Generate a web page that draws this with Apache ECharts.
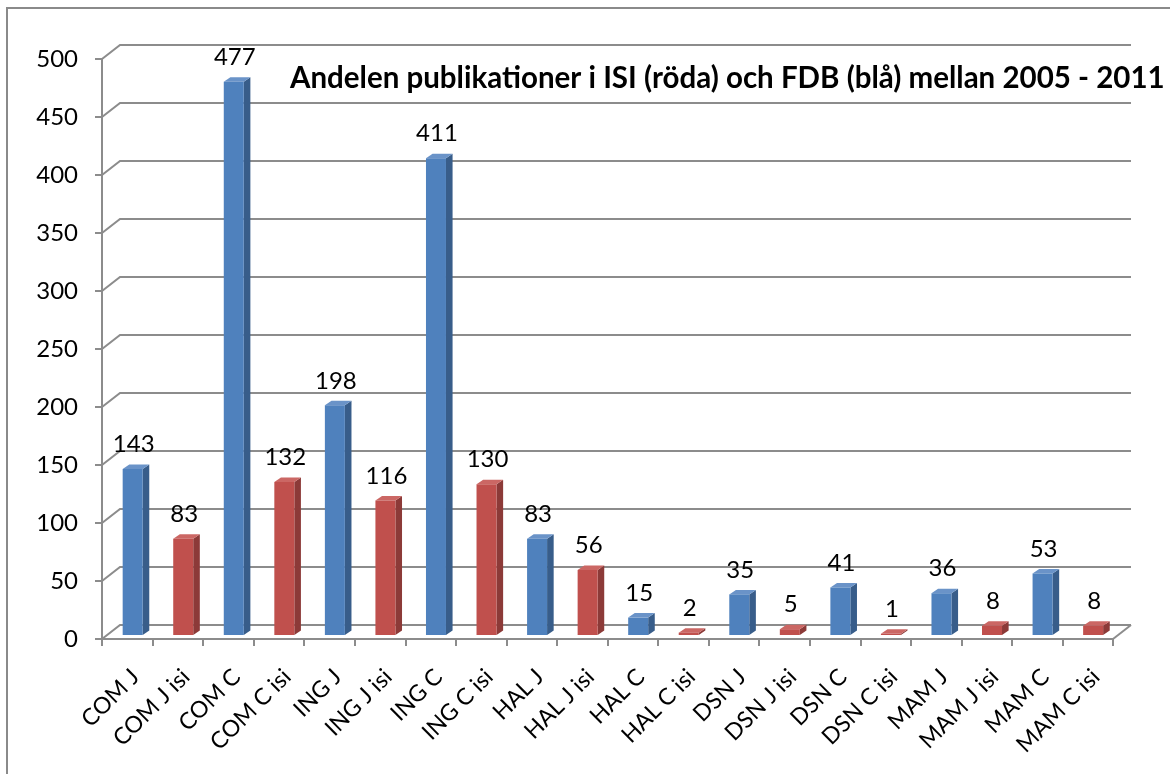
<!DOCTYPE html>
<html>
<head>
<meta charset="utf-8">
<script src="https://cdn.jsdelivr.net/npm/echarts@6/dist/echarts.min.js"></script>
<style>
html,body{margin:0;padding:0;background:#fff;}
#chart{width:1170px;height:774px;}
</style>
</head>
<body>
<div id="chart"></div>
<script>
var categories = ['COM J','COM J isi','COM C','COM C isi','ING J','ING J isi','ING C','ING C isi','HAL J','HAL J isi','HAL C','HAL C isi','DSN J','DSN J isi','DSN C','DSN C isi','MAM J','MAM J isi','MAM C','MAM C isi'];
var values = [143,83,477,132,198,116,411,130,83,56,15,2,35,5,41,1,36,8,53,8];
var yTicks = [0,50,100,150,200,250,300,350,400,450,500];
var titleText = 'Andelen publikationer i ISI (röda) och FDB (blå) mellan 2005 - 2011';

var FONT = 'Lato';
var DEPTH_X = 18, DEPTH_Y = 14;
var GRID_COLOR = '#8c8c8c';
var palette = {
  fdb: {front:'#4F81BD', side:'#385D8A', top:'#6A93C8'},
  isi: {front:'#C0504D', side:'#8C3A38', top:'#CB6764'}
};

var chart = echarts.init(document.getElementById('chart'));

var barData = categories.map(function(c, i){ return [i, values[i]]; });
var gridData = yTicks.map(function(v){ return [0, v]; });

function renderGrid(params, api){
  var v = api.value(1);
  var band = api.size([1,0])[0];
  var p0 = api.coord([0, v]);
  var pN = api.coord([categories.length-1, v]);
  var xl = p0[0] - band/2, xr = pN[0] + band/2, y = p0[1];
  var children = [{
    type:'polyline',
    shape:{points:[[xl,y],[xl+DEPTH_X,y-DEPTH_Y],[xr+DEPTH_X,y-DEPTH_Y]]},
    style:{stroke:GRID_COLOR, lineWidth:2, fill:null}
  }];
  if (v === 0) {
    children.push({type:'line', shape:{x1:xr,y1:y,x2:xr+DEPTH_X,y2:y-DEPTH_Y}, style:{stroke:GRID_COLOR,lineWidth:2}});
  }
  return {type:'group', children:children};
}

function renderBar(params, api){
  var i = api.value(0), v = api.value(1);
  var pal = /isi$/.test(categories[i]) ? palette.isi : palette.fdb;
  var c = api.coord([i, v]);
  var c0 = api.coord([i, 0]);
  var w = 20, sd = 6.6, rise = 4.5, off = 4;
  var xl = c[0] - 4.6, xr = xl + w;
  var yt = c[1] - off, yb = c0[1] - off;
  return {type:'group', children:[
    {type:'polygon', shape:{points:[[xr,yt],[xr+sd,yt-rise],[xr+sd,yb-rise],[xr,yb]]}, style:{fill:pal.side}},
    {type:'polygon', shape:{points:[[xl,yt],[xl+sd,yt-rise],[xr+sd,yt-rise],[xr,yt]]}, style:{fill:pal.top}},
    {type:'rect', shape:{x:xl, y:yt, width:w, height:yb-yt}, style:{fill:pal.front}},
    {type:'text', style:{text:String(v), x:xl+w/2+1, y:yt-rise-8, textAlign:'center', textVerticalAlign:'bottom', font:'24px '+FONT, fill:'#000'}}
  ]};
}

chart.setOption({
  animation:false,
  backgroundColor:'#fff',
  title:{text:titleText, left:285, top:58, textStyle:{fontFamily:FONT, fontWeight:'bold', fontSize:29.5, color:'#000'}},
  graphic:[{type:'rect', shape:{x:7, y:8, width:1200, height:800}, style:{fill:null, stroke:'#8a8a8a', lineWidth:2}, z:-1}],
  grid:{left:102, top:59, width:1011, height:580},
  xAxis:{
    type:'category', data:categories,
    axisLine:{lineStyle:{color:GRID_COLOR, width:2}},
    axisTick:{show:true, length:7, lineStyle:{color:GRID_COLOR, width:2}},
    axisLabel:{interval:0, rotate:45, margin:26, verticalAlign:'top', fontFamily:FONT, fontSize:23, color:'#000'},
    splitLine:{show:false}
  },
  yAxis:{
    type:'value', min:0, max:500, interval:50,
    axisLine:{show:true, lineStyle:{color:GRID_COLOR, width:2}},
    axisTick:{show:true, length:7, lineStyle:{color:GRID_COLOR, width:2}},
    axisLabel:{margin:24, fontFamily:FONT, fontSize:24, color:'#000'},
    splitLine:{show:false}
  },
  series:[
    {type:'custom', renderItem:renderGrid, data:gridData, z:1, silent:true},
    {type:'custom', renderItem:renderBar, data:barData, z:2}
  ]
});
</script>
</body>
</html>
